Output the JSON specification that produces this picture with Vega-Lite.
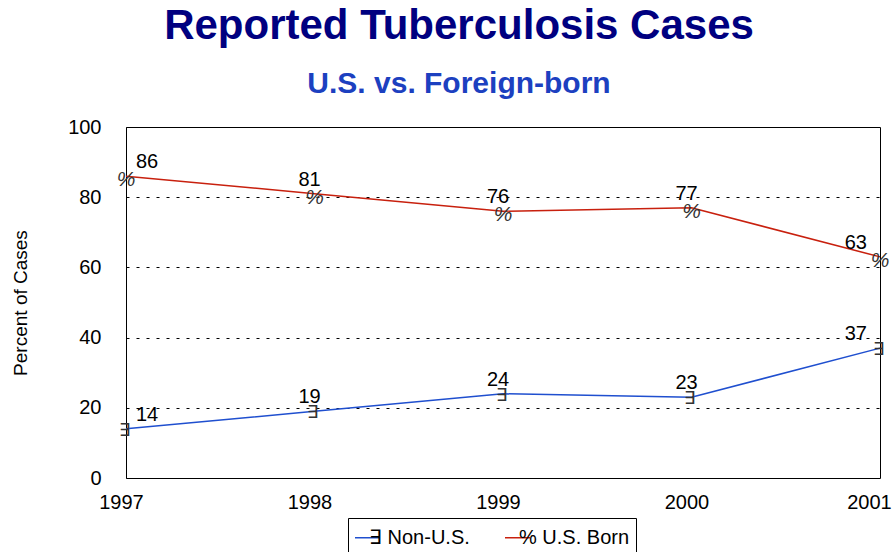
{
  "$schema": "https://vega.github.io/schema/vega-lite/v6.json",
  "width": 754,
  "height": 351,
  "autosize": {"type": "none"},
  "padding": {"left": 126, "top": 127, "right": 13, "bottom": 74},
  "background": "white",
  "title": {
    "text": "Reported Tuberculosis Cases",
    "subtitle": "U.S. vs. Foreign-born",
    "anchor": "middle",
    "frame": "group",
    "dx": -44,
    "font": "Liberation Sans",
    "fontSize": 42,
    "fontWeight": "bold",
    "color": "#000080",
    "subtitleFont": "Liberation Sans",
    "subtitleFontSize": 30,
    "subtitleFontWeight": "bold",
    "subtitleColor": "#1c40c0",
    "subtitlePadding": 21,
    "offset": 17
  },
  "config": {
    "view": {"stroke": "black", "strokeWidth": 1},
    "font": "Liberation Sans"
  },
  "data": {
    "values": [
      {"year": "1997", "series": "U.S. Born", "value": 86},
      {"year": "1998", "series": "U.S. Born", "value": 81},
      {"year": "1999", "series": "U.S. Born", "value": 76},
      {"year": "2000", "series": "U.S. Born", "value": 77},
      {"year": "2001", "series": "U.S. Born", "value": 63},
      {"year": "1997", "series": "Non-U.S.", "value": 14},
      {"year": "1998", "series": "Non-U.S.", "value": 19},
      {"year": "1999", "series": "Non-U.S.", "value": 24},
      {"year": "2000", "series": "Non-U.S.", "value": 23},
      {"year": "2001", "series": "Non-U.S.", "value": 37}
    ]
  },
  "encoding": {
    "x": {
      "field": "year",
      "type": "ordinal",
      "scale": {"type": "point", "padding": 0},
      "axis": {
        "title": null,
        "labelAngle": 0,
        "grid": false,
        "ticks": false,
        "domain": false,
        "labelFontSize": 20,
        "labelColor": "black",
        "labelPadding": 14,
        "labelOffset": {"condition": {"test": "datum.value == '2001'", "value": -11}, "value": -5}
      }
    },
    "y": {
      "field": "value",
      "type": "quantitative",
      "scale": {"domain": [0, 100], "nice": false},
      "axis": {
        "values": [0, 20, 40, 60, 80, 100],
        "title": "Percent of Cases",
        "titleFontSize": 19,
        "titleFontWeight": "normal",
        "titleColor": "black",
        "titlePadding": 37,
        "grid": true,
        "gridDash": [3, 7],
        "gridColor": "black",
        "gridOpacity": 1,
        "ticks": false,
        "domain": false,
        "labelFontSize": 20,
        "labelColor": "black",
        "labelPadding": 25
      }
    }
  },
  "layer": [
    {
      "mark": {"type": "line", "strokeWidth": 1.5},
      "encoding": {
        "color": {
          "field": "series",
          "type": "nominal",
          "scale": {"domain": ["Non-U.S.", "U.S. Born"], "range": ["#1f4fcf", "#c8200e"]},
          "legend": {
            "orient": "none",
            "legendX": 222,
            "legendY": 391,
            "direction": "horizontal",
            "title": null,
            "strokeColor": "black",
            "padding": 6,
            "symbolType": "stroke",
            "symbolSize": 625,
            "symbolStrokeWidth": 1.5,
            "labelFontSize": 20,
            "labelColor": "black",
            "labelOffset": -12,
            "columnPadding": 32,
            "labelExpr": "datum.label == 'Non-U.S.' ? '∃ Non-U.S.' : '% U.S. Born\u00a0\u00a0\u00a0'"
          }
        }
      }
    },
    {
      "transform": [{"filter": "datum.series == 'U.S. Born'"}],
      "mark": {"type": "text", "text": "%", "fontSize": 21, "fontStyle": "italic", "color": "#333333", "dy": 4}
    },
    {
      "transform": [{"filter": "datum.series == 'Non-U.S.'"}],
      "mark": {"type": "text", "text": "∃", "fontSize": 18, "color": "#333333", "dx": -2, "dy": 2}
    },
    {
      "transform": [{"filter": "datum.year == '1997'"}],
      "mark": {"type": "text", "align": "left", "baseline": "alphabetic", "dx": 10, "dy": -8, "fontSize": 20, "color": "black"},
      "encoding": {"text": {"field": "value", "type": "quantitative"}}
    },
    {
      "transform": [{"filter": "datum.year != '1997' && datum.year != '2001'"}],
      "mark": {"type": "text", "align": "center", "baseline": "alphabetic", "dx": -5, "dy": -8, "fontSize": 20, "color": "black"},
      "encoding": {"text": {"field": "value", "type": "quantitative"}}
    },
    {
      "transform": [{"filter": "datum.year == '2001'"}],
      "mark": {"type": "text", "align": "right", "baseline": "alphabetic", "dx": -13, "dy": -8, "fontSize": 20, "color": "black"},
      "encoding": {"text": {"field": "value", "type": "quantitative"}}
    }
  ]
}
